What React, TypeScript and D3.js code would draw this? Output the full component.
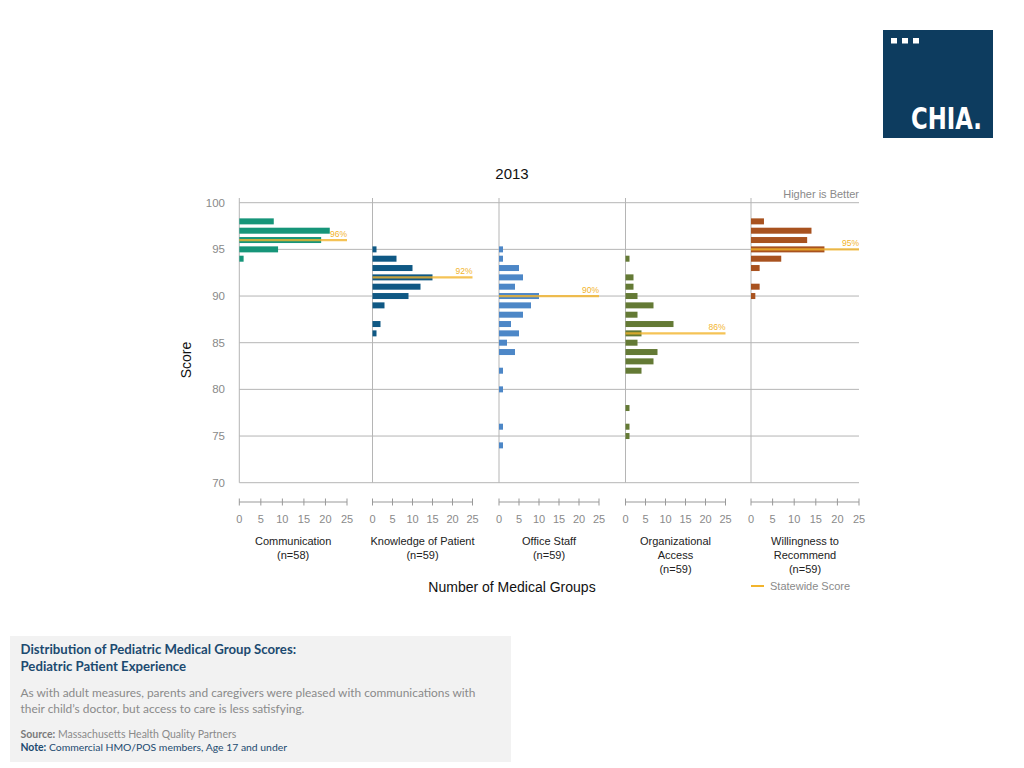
import React from "react";
import * as d3 from "d3";

// ---------- DATA ----------
const categories = ["Communication", "Knowledge of Patient", "Office Staff", "Organizational Access", "Willingness to Recommend"];
const categoryLines = [["Communication", "(n=58)"], ["Knowledge of Patient", "(n=59)"], ["Office Staff", "(n=59)"], ["Organizational", "Access", "(n=59)"], ["Willingness to", "Recommend", "(n=59)"]];
const statewide = [96, 92, 90, 86, 95];

const communication = [{ score: 98, n: 8 }, { score: 97, n: 21 }, { score: 96, n: 19 }, { score: 95, n: 9 }, { score: 94, n: 1 }];
const knowledge = [{ score: 95, n: 1 }, { score: 94, n: 6 }, { score: 93, n: 10 }, { score: 92, n: 15 }, { score: 91, n: 12 }, { score: 90, n: 9 }, { score: 89, n: 3 }, { score: 87, n: 2 }, { score: 86, n: 1 }];
const officeStaff = [{ score: 95, n: 1 }, { score: 94, n: 1 }, { score: 93, n: 5 }, { score: 92, n: 6 }, { score: 91, n: 4 }, { score: 90, n: 10 }, { score: 89, n: 8 }, { score: 88, n: 6 }, { score: 87, n: 3 }, { score: 86, n: 5 }, { score: 85, n: 2 }, { score: 84, n: 4 }, { score: 82, n: 1 }, { score: 80, n: 1 }, { score: 76, n: 1 }, { score: 74, n: 1 }];
const orgAccess = [{ score: 94, n: 1 }, { score: 92, n: 2 }, { score: 91, n: 2 }, { score: 90, n: 3 }, { score: 89, n: 7 }, { score: 88, n: 3 }, { score: 87, n: 12 }, { score: 86, n: 4 }, { score: 85, n: 3 }, { score: 84, n: 8 }, { score: 83, n: 7 }, { score: 82, n: 4 }, { score: 78, n: 1 }, { score: 76, n: 1 }, { score: 75, n: 1 }];
const willingness = [{ score: 98, n: 3 }, { score: 97, n: 14 }, { score: 96, n: 13 }, { score: 95, n: 17 }, { score: 94, n: 7 }, { score: 93, n: 2 }, { score: 91, n: 2 }, { score: 90, n: 1 }];
const panelData = [communication, knowledge, officeStaff, orgAccess, willingness];

const yTicks = [100, 95, 90, 85, 80, 75, 70];
const xTicks = [0, 5, 10, 15, 20, 25];

// ---------- STYLE / LAYOUT ----------
const colors = ["#169579", "#0f5884", "#4d87c7", "#647a35", "#a8521f"];
const panelRanges: [number, number][] = [[239.3, 347], [372.5, 472.5], [499, 599], [625.5, 725.5], [751, 859]];
const yTop = 202.7, yBottom = 482.7;
const gridLeft = 239.3, gridRight = 859;
const statewideColor = "#f2b42c";
const grey = "#8a8a8a";
const FONT = "'Liberation Sans', Arial, sans-serif";

export default function App() {
  const y = d3.scaleLinear().domain([70, 100]).range([yBottom, yTop]);
  const barH = 6;

  return (
    <svg width={1024} height={768} style={{ position: "absolute", left: 0, top: 0, background: "#fff" }} fontFamily={FONT}>
      {/* Logo */}
      <rect x={883} y={30} width={110} height={108} fill="#0d3c5f" />
      {[891, 902, 913].map((x) => (
        <rect key={x} x={x} y={38} width={6} height={5.5} fill="#fff" />
      ))}
      <text x={911} y={129} fill="#fff" fontFamily="'DejaVu Sans Condensed', 'DejaVu Sans', sans-serif" fontWeight="bold" fontSize={30} textLength={71} lengthAdjust="spacingAndGlyphs">CHIA.</text>

      {/* Title */}
      <text x={512} y={179} textAnchor="middle" fontSize={15} fill="#111">2013</text>
      <text x={859} y={198} textAnchor="end" fontSize={11} fill={grey}>Higher is Better</text>

      {/* Gridlines */}
      {yTicks.map((t) => (
        <g key={t}>
          <line x1={gridLeft} x2={gridRight} y1={y(t)} y2={y(t)} stroke="#b5b5b5" strokeWidth={1} />
          <text x={225} y={y(t)} dy="0.35em" textAnchor="end" fontSize={11.5} fill={grey}>{t}</text>
        </g>
      ))}
      {panelRanges.map((r, i) => (
        <line key={i} x1={r[0]} x2={r[0]} y1={198} y2={yBottom} stroke="#b5b5b5" strokeWidth={1} />
      ))}
      <text transform={`translate(191,360) rotate(-90)`} textAnchor="middle" fontSize={14} fill="#111">Score</text>

      {/* Panels */}
      {panelData.map((data, i) => {
        const [x0, x1] = panelRanges[i];
        const x = d3.scaleLinear().domain([0, 25]).range([x0, x1]);
        const sw = statewide[i];
        return (
          <g key={categories[i]}>
            {data.map((d) => (
              <rect key={d.score} x={x(0)} y={y(d.score) - barH / 2} width={x(d.n) - x(0)} height={barH} fill={colors[i]} />
            ))}
            <line x1={x(0)} x2={x(25)} y1={y(sw)} y2={y(sw)} stroke={statewideColor} strokeWidth={2.2} strokeOpacity={0.8} />
            <text x={x(25)} y={y(sw) - 3} textAnchor="end" fontSize={8.5} fill={statewideColor}>{sw}%</text>

            {/* x axis */}
            <line x1={x(0)} x2={x(25)} y1={502} y2={502} stroke="#999" strokeWidth={1} />
            {xTicks.map((t) => (
              <g key={t}>
                <line x1={x(t)} x2={x(t)} y1={498.5} y2={505.5} stroke="#999" strokeWidth={1} />
                <text x={x(t)} y={523} textAnchor="middle" fontSize={11} fill={grey}>{t}</text>
              </g>
            ))}
            {categoryLines[i].map((l, k) => (
              <text key={k} x={(x0 + x1) / 2} y={545 + k * 14} textAnchor="middle" fontSize={11} fill="#222">{l}</text>
            ))}
          </g>
        );
      })}

      <text x={512} y={592} textAnchor="middle" fontSize={14} fill="#111">Number of Medical Groups</text>
      <line x1={751} x2={764} y1={586} y2={586} stroke={statewideColor} strokeWidth={2} />
      <text x={770} y={590} fontSize={11} fill={grey}>Statewide Score</text>

      {/* Text box */}
      <rect x={10} y={636} width={501} height={126} fill="#f2f2f2" />
      <g fontFamily="Lato, 'Open Sans', sans-serif">
        <text x={20.5} y={654} fontSize={13.2} fontWeight="bold" fill="#1c4a70">Distribution of Pediatric Medical Group Scores:</text>
        <text x={20.5} y={671} fontSize={13.2} fontWeight="bold" fill="#1c4a70">Pediatric Patient Experience</text>
        <text x={20.5} y={697} fontSize={11.9} fill="#8a8a8a">As with adult measures, parents and caregivers were pleased with communications with</text>
        <text x={20.5} y={713} fontSize={11.9} fill="#8a8a8a">their child’s doctor, but access to care is less satisfying.</text>
        <text x={20.5} y={738} fontSize={10.5} fill="#8a8a8a"><tspan fontWeight="bold" fill="#7a7a7a">Source:</tspan> Massachusetts Health Quality Partners</text>
        <text x={20.5} y={751} fontSize={10.4} fill="#1c4a70"><tspan fontWeight="bold">Note:</tspan> Commercial HMO/POS members, Age 17 and under</text>
      </g>
    </svg>
  );
}
